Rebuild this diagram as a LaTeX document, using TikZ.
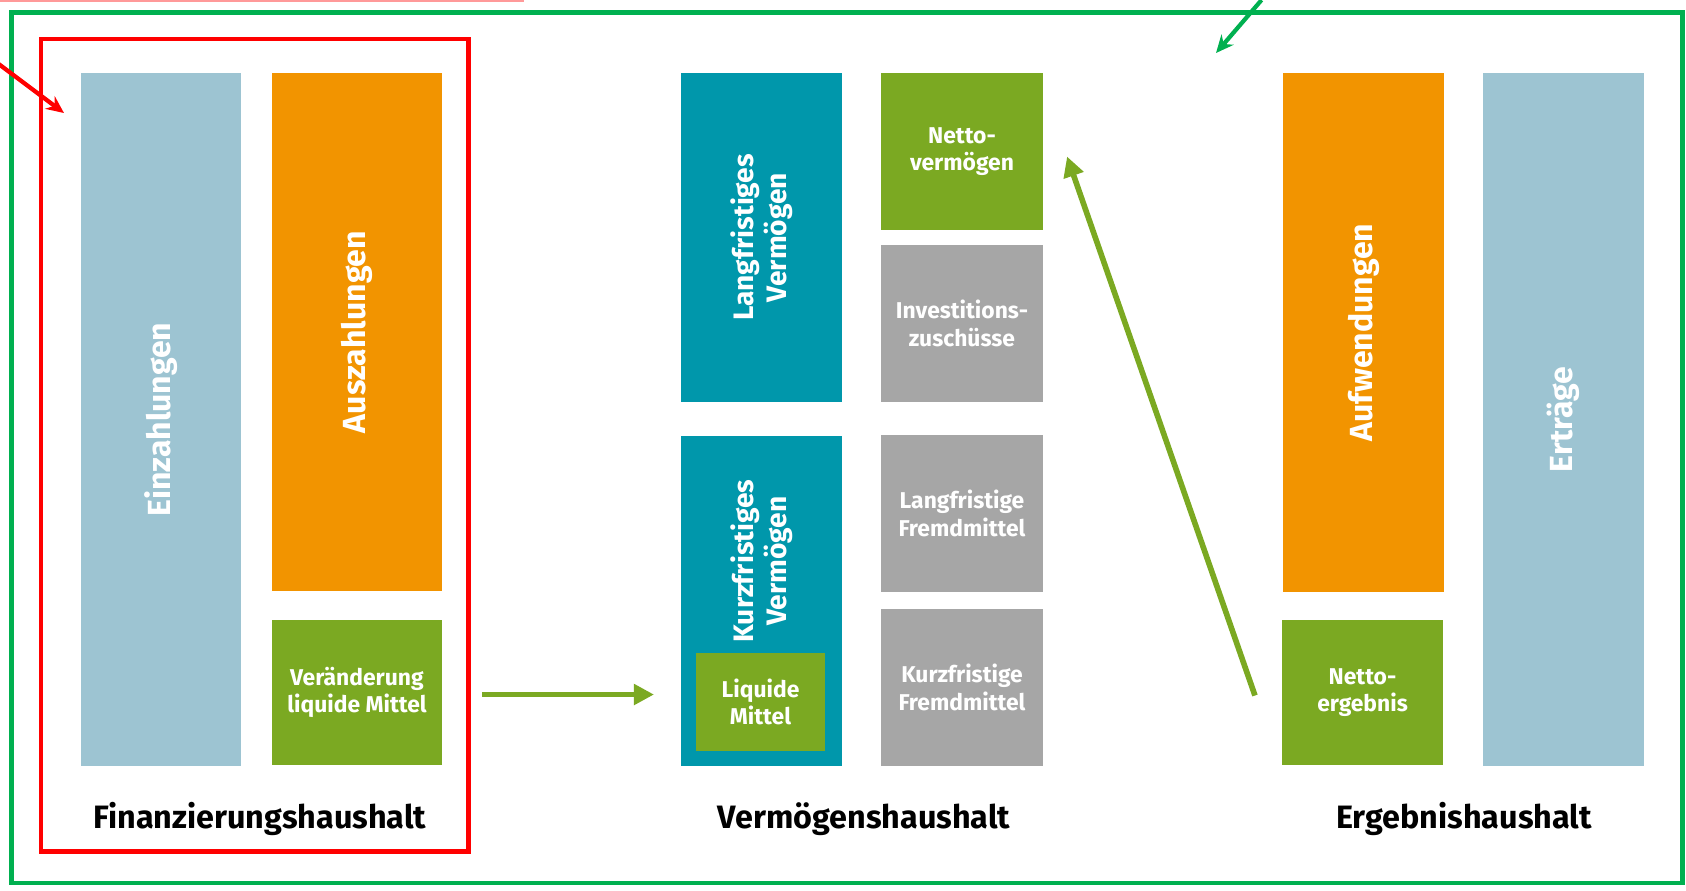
\documentclass[tikz,border=0pt]{standalone}
\usepackage{fontspec}
\setmainfont{Fira Sans}
\usetikzlibrary{arrows.meta,calc}
\definecolor{hellblau}{HTML}{9DC4D2}
\definecolor{fhorange}{HTML}{F29400}
\definecolor{gruen}{HTML}{7BA922}
\definecolor{petrol}{HTML}{0097AB}
\definecolor{grau}{HTML}{A6A6A6}
\definecolor{rahmengruen}{HTML}{00B050}
\definecolor{rot}{HTML}{FF0000}
\begin{document}
\begin{tikzpicture}[x=0.01cm,y=-0.01cm,
    tile/.style={inner sep=0pt,outer sep=0pt,text=white,align=center,
      font=\bfseries\fontsize{6.5}{7.8}\selectfont},
    vtext/.style={rotate=90,text=white,align=center,font=\bfseries\fontsize{9.1}{10}\selectfont},
    vtwo/.style={rotate=90,text=white,align=center,font=\bfseries\fontsize{8}{9.4}\selectfont},
    titel/.style={anchor=base,font=\bfseries\fontsize{9.2}{10}\selectfont},
    flow/.style={draw=gruen,line width=1.6pt,-{Triangle[length=5.7pt,width=5.7pt]}},
    hint/.style={line width=1.2pt,-{Stealth[length=5pt,width=4.5pt]}}]
  \useasboundingbox (0,0) rectangle (1686,890);

  % Rahmen
  \draw[rot!40,line width=0.6pt] (0,1) -- (524,1);
  \draw[rahmengruen,line width=1.2pt] (11.5,12.5) rectangle (1682.5,883);
  \draw[rot,line width=1.3pt] (41,39) rectangle (468.5,851.5);
  \coordinate (fhecke) at (41,39);
  \coordinate (vhecke) at (11.5,12.5);

  % Finanzierungshaushalt
  \node[tile,fill=hellblau,minimum width=1.6cm,minimum height=6.93cm] (ez) at (161,419.5) {};
  \node[vtext] at (ez) {Einzahlungen};
  \node[tile,fill=fhorange,minimum width=1.7cm,minimum height=5.18cm] (az) at (357,332) {};
  \node[vtext] at (az) {Auszahlungen};
  \node[tile,fill=gruen,minimum width=1.7cm,minimum height=1.45cm] (vl) at (357,692.5) {Veränderung\\liquide Mittel};
  \node[titel] (fh) at (260,828) {Finanzierungshaushalt};

  % Vermoegenshaushalt
  \node[tile,fill=petrol,minimum width=1.61cm,minimum height=3.29cm] (lv) at (761.5,237.5) {};
  \node[vtwo] at (lv) {Langfristiges\\Vermögen};
  \node[tile,fill=petrol,minimum width=1.61cm,minimum height=3.3cm] (kv) at (761.5,601) {};
  \node[vtwo] at (762,561) {Kurzfristiges\\Vermögen};
  \node[tile,fill=gruen,minimum width=1.29cm,minimum height=0.98cm] (lm) at (760.5,702) {Liquide\\Mittel};
  \node[tile,fill=gruen,minimum width=1.62cm,minimum height=1.57cm] (nv) at (962,151.5) {Netto-\\vermögen};
  \node[tile,fill=grau,minimum width=1.62cm,minimum height=1.57cm] (iz) at (962,323.5) {Investitions-\\zuschüsse};
  \node[tile,fill=grau,minimum width=1.62cm,minimum height=1.57cm] (lf) at (962,513.5) {Langfristige\\Fremdmittel};
  \node[tile,fill=grau,minimum width=1.62cm,minimum height=1.57cm] (kf) at (962,687.5) {Kurzfristige\\Fremdmittel};
  \node[titel] (vh) at (864,828) {Vermögenshaushalt};

  % Ergebnishaushalt
  \node[tile,fill=fhorange,minimum width=1.61cm,minimum height=5.19cm] (aw) at (1363.5,332.5) {};
  \node[vtext] at (aw) {Aufwendungen};
  \node[tile,fill=gruen,minimum width=1.61cm,minimum height=1.45cm] (ne) at (1362.5,692.5) {Netto-\\ergebnis};
  \node[tile,fill=hellblau,minimum width=1.61cm,minimum height=6.93cm] (er) at (1563.5,419.5) {};
  \node[vtext] at (er) {Erträge};
  \node[titel] (eh) at (1464,828) {Ergebnishaushalt};

  % Pfeile
  \draw[flow] ($(vl.east)+(40,2)$) -- ($(kv.west |- vl.east)+(-27,2)$);
  \draw[flow] ($(ne.west)+(-27,3)$) -- ($(nv.east)+(24,5)$);
  \draw[hint,rot] ($(fhecke)+(-45,23)$) -- ($(fhecke)+(23,74)$);
  \draw[hint,rahmengruen] ($(vhecke)+(1250,-12.5)$) -- ($(vhecke)+(1204.5,40.5)$);
\end{tikzpicture}
\end{document}
